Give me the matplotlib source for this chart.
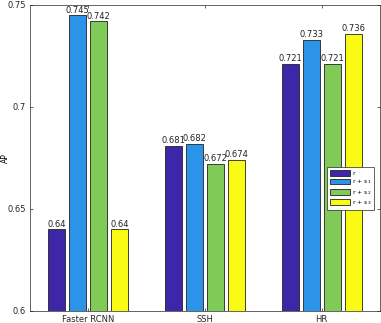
import matplotlib.pyplot as plt
import numpy as np

plt.rcParams.update({'font.family': 'sans-serif', 'font.size': 6})

methods = ['Faster RCNN', 'SSH', 'HR']
series = ['r', 'r + s$_1$', 'r + s$_2$', 'r + s$_3$']
ap_r = [0.64, 0.681, 0.721]
ap_s1 = [0.745, 0.682, 0.733]
ap_s2 = [0.742, 0.672, 0.721]
ap_s3 = [0.64, 0.674, 0.736]
labels_r = ['0.64', '0.681', '0.721']
labels_s1 = ['0.745', '0.682', '0.733']
labels_s2 = ['0.742', '0.672', '0.721']
labels_s3 = ['0.64', '0.674', '0.736']

colors = ['#3e26a8', '#2b93e8', '#80cb58', '#f9fb15']
offsets = [-0.27, -0.09, 0.09, 0.27]

fig = plt.figure(figsize=(3.81, 3.23), dpi=100)
ax = fig.add_axes([30/381, 12/323, 350/381, 306/323])

x = np.arange(1, len(methods) + 1)
for vals, labs, col, off, name in zip([ap_r, ap_s1, ap_s2, ap_s3],
                                      [labels_r, labels_s1, labels_s2, labels_s3],
                                      colors, offsets, series):
    bars = ax.bar(x + off, np.array(vals) - 0.6, bottom=0.6, width=0.145,
                  color=col, edgecolor='#222222', linewidth=0.6, label=name)
    ax.bar_label(bars, labels=labs, padding=0.5, fontsize=6, color='#222222')

ax.set_xlim(0.5, 3.5)
ax.set_ylim(0.6, 0.75)
ax.set_xticks(x)
ax.set_xticklabels(methods)
ax.set_yticks([0.6, 0.65, 0.7, 0.75])
ax.set_yticklabels(['0.6', '0.65', '0.7', '0.75'])
ax.set_ylabel('AP', fontsize=5.5)
ax.yaxis.set_label_coords(-0.058, 0.5)
ax.tick_params(direction='in', length=2.5, width=0.5, colors='#262626', pad=3,
               top=True, right=True, labeltop=False, labelright=False)
for s in ax.spines.values():
    s.set_color('#262626')
    s.set_linewidth(0.5)

leg = ax.legend(loc='center left', bbox_to_anchor=(0.84, 0.4), fontsize=4.5,
                handlelength=3.2, handleheight=1.0, borderpad=0.4,
                labelspacing=0.25, handletextpad=0.4, fancybox=False,
                framealpha=1, edgecolor='#262626')
leg.get_frame().set_linewidth(0.5)

fig.savefig('out.png', dpi=100)
